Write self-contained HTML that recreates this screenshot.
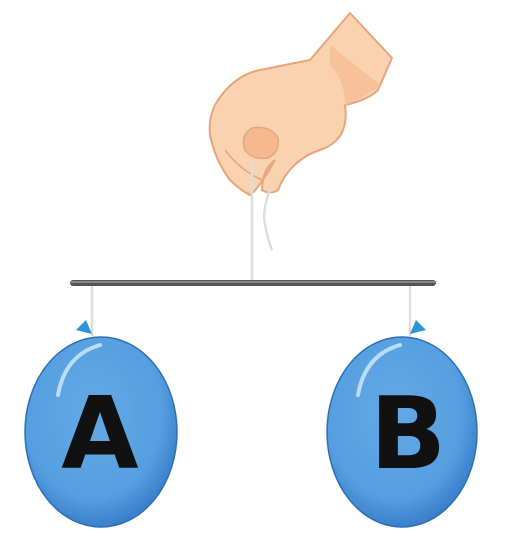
<!DOCTYPE html>
<html><head><meta charset="utf-8"><style>
html,body{margin:0;padding:0;background:#fff;width:516px;height:545px;overflow:hidden}
svg{display:block}
</style></head><body>
<svg width="516" height="545" viewBox="0 0 516 545">
<defs>
<radialGradient id="bg" cx="0.45" cy="0.4" r="0.6">
<stop offset="0" stop-color="#63a9e6"/><stop offset="0.75" stop-color="#559fe0"/><stop offset="1" stop-color="#3a7fcb"/>
</radialGradient>
</defs>
<g>
<path d="M350,13 L392,58 L378,90 Q368,100 345,105 Q350,140 320,150 Q290,160 278,190 Q270,195 262,190 Q262,170 275,160 Q258,190 250,195 Q240,190 230,180 Q215,160 210,135 Q208,115 218,100 Q235,75 260,70 Q300,62 310,60 Z" fill="#f9d2b0" stroke="#e7a57a" stroke-width="2"/>
<path d="M330,45 L380,85 Q365,98 345,105 Q345,80 330,65 Z" fill="#f7c19a"/>
<path d="M252,128 Q270,125 278,138 Q280,152 268,158 Q252,160 245,150 Q240,135 252,128 Z" fill="#f5b98e" stroke="#e7a57a" stroke-width="1.5"/>
<path d="M225,150 Q240,170 262,180" fill="none" stroke="#e7a57a" stroke-width="1.5"/>
</g>
<g>
<line x1="252" y1="160" x2="252" y2="283" stroke="#ddd" stroke-width="2.5"/>
<path d="M270,190 Q262,210 265,225 Q268,240 272,250" fill="none" stroke="#ddd" stroke-width="2.5"/>
</g>
<rect x="70" y="280" width="366" height="6" rx="3" fill="#555"/>
<rect x="70" y="281" width="366" height="2" fill="#888"/>
<line x1="92" y1="286" x2="92" y2="336" stroke="#ddd" stroke-width="2.5"/>
<line x1="410" y1="286" x2="410" y2="336" stroke="#ddd" stroke-width="2.5"/>
<g>
<path d="M76,330 L86,320 L92,334 Z" fill="#2b96d6"/>
<ellipse cx="101" cy="432" rx="76" ry="95" fill="url(#bg)" stroke="#2f6fb5" stroke-width="1.5"/>
<path d="M58,395 Q65,355 100,345" fill="none" stroke="#b9dcf7" stroke-width="4" stroke-linecap="round"/>
<text x="100" y="468" text-anchor="middle" font-family="'DejaVu Sans',sans-serif" font-weight="bold" font-size="100" fill="#111">A</text>
</g>
<g>
<path d="M410,334 L416,320 L426,330 Z" fill="#2b96d6"/>
<ellipse cx="402" cy="432" rx="75" ry="95" fill="url(#bg)" stroke="#2f6fb5" stroke-width="1.5"/>
<path d="M358,395 Q365,355 400,345" fill="none" stroke="#b9dcf7" stroke-width="4" stroke-linecap="round"/>
<text x="408" y="468" text-anchor="middle" font-family="'DejaVu Sans',sans-serif" font-weight="bold" font-size="100" fill="#111">B</text>
</g>
</svg>
</body></html>
